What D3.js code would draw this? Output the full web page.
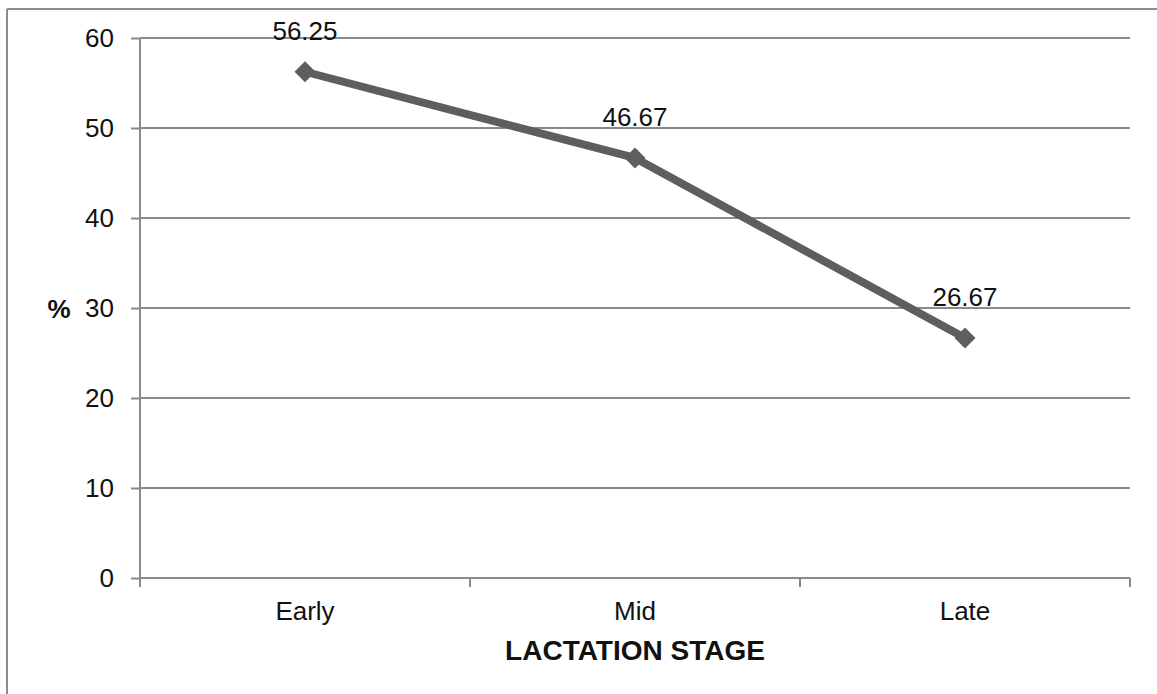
<!DOCTYPE html>
<html>
<head>
<meta charset="utf-8">
<script src="https://cdn.jsdelivr.net/npm/d3@7"></script>
<style>
  body { margin: 0; background: #fff; }
  svg { display: block; font-family: Arial, "Liberation Sans", sans-serif; }
</style>
</head>
<body>
<svg id="chart" width="1157" height="694"></svg>
<script>
// Percentage by lactation stage
const stages = ["Early", "Mid", "Late"];
const percents = [56.25, 46.67, 26.67];
const yTicks = [0, 10, 20, 30, 40, 50, 60];

const FONT = "Arial, 'Liberation Sans', sans-serif";
const FS = 26;

const svg = d3.select("#chart");
const margin = { left: 140, right: 27, top: 38, bottom: 116 };
const W = 1157, H = 694;

// outer frame (top and left edges)
svg.append("line").attr("x1", 7).attr("x2", W).attr("y1", 9).attr("y2", 9)
  .attr("stroke", "#8c8c8c").attr("stroke-width", 2);
svg.append("line").attr("x1", 7).attr("x2", 7).attr("y1", 9).attr("y2", H)
  .attr("stroke", "#8c8c8c").attr("stroke-width", 2);

const x = d3.scaleBand().domain(stages).range([margin.left, W - margin.right]).paddingInner(0).paddingOuter(0);
const y = d3.scaleLinear().domain([0, 60]).range([H - margin.bottom, margin.top]);

// horizontal gridlines
svg.append("g").selectAll("line").data(yTicks.filter(d => d > 0)).join("line")
  .attr("x1", margin.left).attr("x2", W - margin.right)
  .attr("y1", d => y(d)).attr("y2", d => y(d))
  .attr("stroke", "#8a8a8a").attr("stroke-width", 2);

// y axis
const yAxis = svg.append("g").attr("transform", `translate(${margin.left},0)`)
  .call(d3.axisLeft(y).tickValues(yTicks).tickSize(9).tickPadding(17));
yAxis.attr("font-size", FS).attr("font-family", FONT);
yAxis.select(".domain").attr("stroke", "#8a8a8a").attr("stroke-width", 2).attr("d", `M0,${y(60)}V${y(0)}`);
yAxis.selectAll(".tick line").attr("stroke", "#8a8a8a").attr("stroke-width", 2);
yAxis.selectAll(".tick text").attr("fill", "#111");

// x axis
const xAxis = svg.append("g").attr("transform", `translate(0,${y(0)})`)
  .call(d3.axisBottom(x).tickSize(0).tickPadding(24));
xAxis.attr("font-size", FS).attr("font-family", FONT);
xAxis.select(".domain").attr("stroke", "#8a8a8a").attr("stroke-width", 2).attr("d", `M${margin.left},0H${W - margin.right}`);
xAxis.selectAll(".tick text").attr("fill", "#111");
// category boundary ticks
const bounds = stages.map(s => x(s)).concat([x(stages[stages.length - 1]) + x.bandwidth()]);
xAxis.append("g").selectAll("line").data(bounds).join("line")
  .attr("x1", d => d).attr("x2", d => d).attr("y1", 0).attr("y2", 9)
  .attr("stroke", "#8a8a8a").attr("stroke-width", 2);

// series line
const cx = d => x(d) + x.bandwidth() / 2;
const line = d3.line().x((d, i) => cx(stages[i])).y(d => y(d));
svg.append("path").datum(percents)
  .attr("d", line).attr("fill", "none")
  .attr("stroke", "#5e5e5e").attr("stroke-width", 8).attr("stroke-linejoin", "round");

// diamond markers
svg.append("g").selectAll("path").data(percents).join("path")
  .attr("d", d3.symbol(d3.symbolDiamond2, 280))
  .attr("transform", (d, i) => `translate(${cx(stages[i])},${y(d)})`)
  .attr("fill", "#5e5e5e");

// value labels
svg.append("g").selectAll("text").data(percents).join("text")
  .attr("x", (d, i) => cx(stages[i]))
  .attr("y", d => y(d) - 32)
  .attr("text-anchor", "middle")
  .attr("font-size", FS).attr("font-family", FONT).attr("fill", "#111")
  .text(d => d.toFixed(2));

// axis titles
svg.append("text").attr("x", 59).attr("y", y(30) + 10).attr("text-anchor", "middle")
  .attr("font-size", 26).attr("font-weight", "bold").attr("font-family", FONT).attr("fill", "#111").text("%");
svg.append("text").attr("x", 635).attr("y", 660).attr("text-anchor", "middle")
  .attr("font-size", 28).attr("font-weight", "bold").attr("font-family", FONT).attr("fill", "#111").text("LACTATION STAGE");
</script>
</body>
</html>
